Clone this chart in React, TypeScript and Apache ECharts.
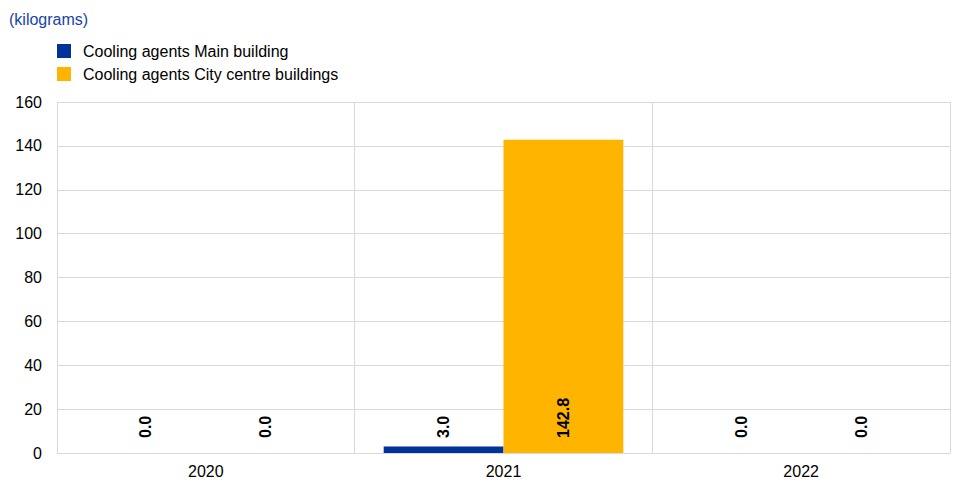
import React, { useEffect, useRef } from "react";
import * as echarts from "echarts";

const categories = ["2020", "2021", "2022"];
const mainBuilding = [0.0, 3.0, 0.0];
const cityCentre = [0.0, 142.8, 0.0];
const seriesNames = ["Cooling agents Main building", "Cooling agents City centre buildings"];
const unitLabel = "(kilograms)";

const FONT = "Liberation Sans, Arial, sans-serif";

export default function App() {
  const ref = useRef<HTMLDivElement>(null);
  useEffect(() => {
    if (!ref.current) return;
    const chart = echarts.init(ref.current, undefined, { renderer: "svg" });
    const label = {
      show: true,
      position: "insideBottom",
      rotate: 90,
      align: "left",
      verticalAlign: "middle",
      distance: 15,
      color: "#000",
      fontWeight: "bold",
      fontSize: 16,
      fontFamily: FONT,
      formatter: (p: any) => Number(p.value).toFixed(1),
    };
    chart.setOption({
      animation: false,
      textStyle: { fontFamily: FONT },
      title: {
        text: unitLabel,
        left: 9,
        top: 11,
        padding: 0,
        textStyle: { color: "#1843a6", fontSize: 16, fontWeight: "normal", fontFamily: FONT },
      },
      legend: {
        orient: "vertical",
        left: 57,
        top: 43,
        padding: 0,
        itemWidth: 14,
        itemHeight: 14,
        itemGap: 7,
        icon: "rect",
        textStyle: { color: "#000", fontSize: 16, lineHeight: 14, fontFamily: FONT, padding: [0, 0, 0, 7] },
        data: seriesNames,
      },
      grid: { left: 57, right: 15, top: 102, bottom: 38, containLabel: false },
      xAxis: {
        type: "category",
        data: categories,
        axisLine: { show: true, lineStyle: { color: "#d9d9d9", width: 1 } },
        axisTick: { show: false },
        splitLine: { show: true, lineStyle: { color: "#d9d9d9", width: 1 } },
        axisLabel: { color: "#000", fontSize: 16, fontFamily: FONT, margin: 10 },
      },
      yAxis: {
        type: "value",
        min: 0,
        max: 160,
        interval: 20,
        axisLine: { show: false },
        axisTick: { show: false },
        splitLine: { show: true, lineStyle: { color: "#d9d9d9", width: 1 } },
        axisLabel: { color: "#000", fontSize: 16, fontFamily: FONT, margin: 15 },
      },
      series: [
        {
          name: seriesNames[0],
          type: "bar",
          data: mainBuilding,
          itemStyle: { color: "#003299" },
          barGap: "0%",
          barCategoryGap: "19.5%",
          label,
        },
        {
          name: seriesNames[1],
          type: "bar",
          data: cityCentre,
          itemStyle: { color: "#ffb400" },
          barGap: "0%",
          barCategoryGap: "19.5%",
          label,
        },
      ],
    });
    return () => chart.dispose();
  }, []);
  return (
    <div
      ref={ref}
      style={{ position: "absolute", left: 0, top: 0, width: 965, height: 491 }}
    />
  );
}
